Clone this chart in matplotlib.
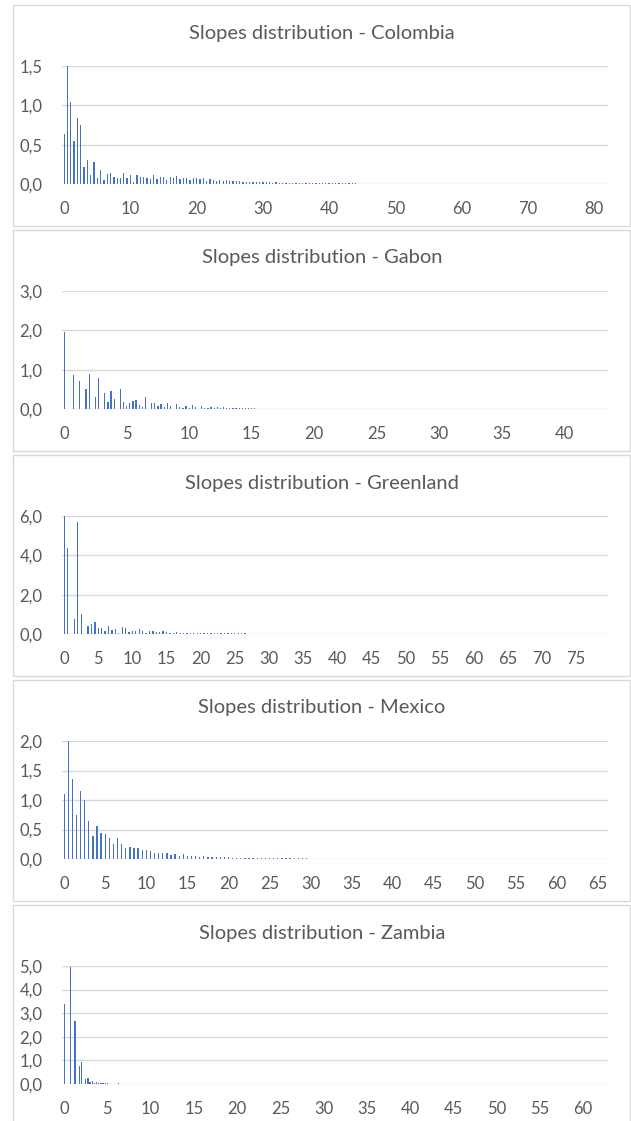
import matplotlib
matplotlib.use("Agg")
import matplotlib.pyplot as plt
from matplotlib.patches import Rectangle
from matplotlib.ticker import FixedLocator, FuncFormatter

plt.rcParams['font.family'] = ['Lato', 'DejaVu Sans']

# ---------------- data ----------------
titles = ["Slopes distribution - Colombia", "Slopes distribution - Gabon",
          "Slopes distribution - Greenland", "Slopes distribution - Mexico",
          "Slopes distribution - Zambia"]

colombia_step = 0.5
colombia_vals = [0.63, 1.50, 1.04, 0.55, 0.84, 0.75, 0.21, 0.30, 0.11, 0.28,
                 0.08, 0.18, 0.05, 0.13, 0.14, 0.09, 0.08, 0.08, 0.14, 0.08,
                 0.11, 0.03, 0.12, 0.09, 0.09, 0.08, 0.06, 0.11, 0.06, 0.09,
                 0.09, 0.055, 0.09, 0.07, 0.10, 0.06, 0.08, 0.07, 0.05, 0.08,
                 0.07, 0.06, 0.07, 0.04, 0.06, 0.05, 0.04, 0.055, 0.04, 0.05,
                 0.04, 0.04, 0.04, 0.04, 0.03, 0.03, 0.03, 0.025, 0.03, 0.025,
                 0.02, 0.02, 0.02, 0.018, 0.02, 0.018, 0.018, 0.016, 0.016, 0.016,
                 0.016, 0.015, 0.015, 0.014, 0.014, 0.014, 0.013, 0.013, 0.013, 0.012,
                 0.012, 0.012, 0.011, 0.011, 0.011, 0.010, 0.010, 0.010, 0.010]

gabon_step = 0.25
gabon_vals = [1.96, 0, 0, 0.87, 0, 0.71, 0, 0.50, 0.88, 0,
              0.31, 0.80, 0, 0.40, 0.17, 0.47, 0.26, 0, 0.52, 0.18,
              0.08, 0.15, 0.20, 0.24, 0.10, 0.05, 0.30, 0, 0.15, 0.16,
              0.07, 0.13, 0.06, 0.15, 0.08, 0, 0.13, 0.06, 0.03, 0.08,
              0.03, 0.10, 0.05, 0, 0.08, 0.03, 0.03, 0.05, 0.03, 0.05,
              0.02, 0.04, 0.02, 0.03, 0.02, 0.015, 0.02, 0.02, 0.015, 0.015,
              0.015, 0.02]

greenland_step = 0.5
greenland_vals = [6.0, 4.38, 0, 0.78, 5.68, 1.0, 0, 0.42, 0.51, 0.59,
                  0.32, 0.30, 0.15, 0.39, 0.22, 0.24, 0.05, 0.35, 0.32, 0.10,
                  0.17, 0.17, 0.25, 0.13, 0.07, 0.17, 0.17, 0.10, 0.10, 0.17,
                  0.10, 0.07, 0.07, 0.10, 0.07, 0.07, 0.05, 0.05, 0.05, 0.05,
                  0.04, 0.04, 0.06, 0.04, 0.04, 0.04, 0.04, 0.035, 0.035, 0.035,
                  0.03, 0.03, 0.03, 0.04]

mexico_step = 0.5
mexico_vals = [1.11, 2.00, 1.35, 0.74, 1.16, 1.00, 0.65, 0.39, 0.56, 0.44,
               0.43, 0.35, 0.26, 0.36, 0.25, 0.18, 0.21, 0.19, 0.18, 0.15,
               0.15, 0.13, 0.11, 0.095, 0.105, 0.105, 0.06, 0.085, 0.045, 0.085,
               0.055, 0.055, 0.05, 0.035, 0.05, 0.04, 0.035, 0.035, 0.03, 0.03,
               0.03, 0.025, 0.025, 0.02, 0.02, 0.02, 0.02, 0.018, 0.018, 0.018,
               0.016, 0.016, 0.015, 0.015, 0.015, 0.014, 0.014, 0.013, 0.013, 0.015]

zambia_step = 0.25
zambia_vals = [3.38, 0, 0, 4.97, 0, 2.65, 0, 0.76, 0.92, 0,
               0.20, 0.25, 0.10, 0.12, 0.05, 0.07, 0.04, 0.05, 0.03, 0.03,
               0.025, 0.02, 0.02, 0.02, 0.02, 0.03, 0.02]

steps = [colombia_step, gabon_step, greenland_step, mexico_step, zambia_step]
values = [colombia_vals, gabon_vals, greenland_vals, mexico_vals, zambia_vals]

y_ticks = [[0, 0.5, 1.0, 1.5], [0, 1, 2, 3], [0, 2, 4, 6],
           [0, 0.5, 1.0, 1.5, 2.0], [0, 1, 2, 3, 4, 5]]
x_ticks = [list(range(0, 81, 10)), list(range(0, 41, 5)), list(range(0, 76, 5)),
           list(range(0, 66, 5)), list(range(0, 61, 5))]
x_max = [82.1, 43.5, 79.7, 66.2, 62.9]

# ---------------- layout ----------------
W, H, DPI = 631, 1121, 100
fig = plt.figure(figsize=(W / DPI, H / DPI), dpi=DPI)
fig.patch.set_facecolor('white')

BAR = '#4472C4'
GRID = '#D9D9D9'
TXT = '#595959'
PITCH = 225
plot_l, plot_r = 62, 608
plot_t, plot_b = 66, 184

comma = FuncFormatter(lambda v, p: f"{v:.1f}".replace('.', ','))

for k in range(5):
    off = PITCH * k
    # outer frame
    fig.patches.append(Rectangle((13 / W, 1 - (226 + off) / H), 617 / W, 221 / H,
                                 transform=fig.transFigure, fill=False,
                                 edgecolor=GRID, lw=1.0))
    ax = fig.add_axes([plot_l / W, 1 - (plot_b + off) / H,
                       (plot_r - plot_l) / W, (plot_b - plot_t) / H])
    vals = values[k]
    xs = [i * steps[k] for i in range(len(vals))]
    bw = 1.3 * x_max[k] / (plot_r - plot_l)
    ax.bar(xs, vals, width=bw, color=BAR, linewidth=0, zorder=3)
    ax.set_xlim(-0.004 * x_max[k], x_max[k])
    ax.set_ylim(0, y_ticks[k][-1])
    ax.yaxis.set_major_locator(FixedLocator(y_ticks[k]))
    ax.xaxis.set_major_locator(FixedLocator(x_ticks[k]))
    ax.yaxis.set_major_formatter(comma)
    ax.yaxis.grid(True, color=GRID, lw=1.0, zorder=0)
    ax.set_axisbelow(True)
    for s in ax.spines.values():
        s.set_visible(False)
    ax.tick_params(axis='both', length=0, labelsize=12, labelcolor=TXT)
    ax.tick_params(axis='x', pad=12)
    ax.tick_params(axis='y', pad=14)
    fig.text(322 / W, 1 - (33 + off) / H, titles[k], ha='center', va='center',
             fontsize=14.5, color=TXT)

fig.savefig('out.png', dpi=DPI)
